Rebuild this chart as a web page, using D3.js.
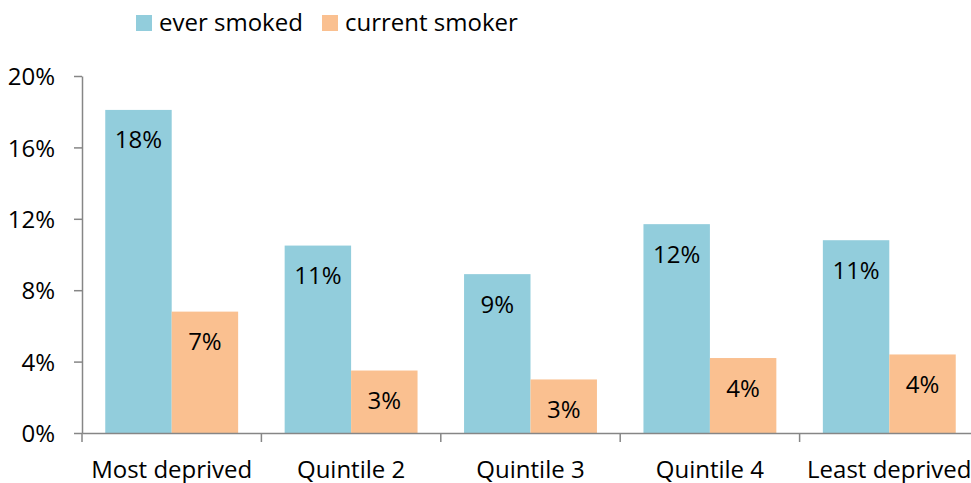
<!DOCTYPE html>
<html>
<head>
<meta charset="utf-8">
<script src="https://cdn.jsdelivr.net/npm/d3@7"></script>
<style>
  body { margin: 0; background: #fff; }
  svg { display: block; font-family: "Open Sans", Lato, sans-serif; }
</style>
</head>
<body>
<svg id="chart" width="971" height="483"></svg>
<script>
const categories = ['Most deprived', 'Quintile 2', 'Quintile 3', 'Quintile 4', 'Least deprived'];
const seriesNames = ['ever smoked', 'current smoker'];
const everSmoked = [18.1, 10.5, 8.9, 11.7, 10.8];
const currentSmoker = [6.8, 3.5, 3.0, 4.2, 4.4];
const labelsEver = ['18%', '11%', '9%', '12%', '11%'];
const labelsCurrent = ['7%', '3%', '3%', '4%', '4%'];
const yTicks = [0, 4, 8, 12, 16, 20];

const colors = ['#92cddc', '#fac090'];
const fontFamily = '"Open Sans", Lato, sans-serif';
const fontSize = '24px';
const svg = d3.select('#chart');

const x = d3.scaleBand()
  .domain(categories)
  .range([82, 979])
  .padding(0);

const inner = d3.scaleBand()
  .domain(seriesNames)
  .range([0, x.bandwidth()])
  .paddingOuter(0.35)
  .paddingInner(0);

const y = d3.scaleLinear()
  .domain([0, 20])
  .range([433, 76]);

const rows = categories.map((c, i) => ({
  cat: c,
  vals: [
    { s: seriesNames[0], v: everSmoked[i], label: labelsEver[i] },
    { s: seriesNames[1], v: currentSmoker[i], label: labelsCurrent[i] }
  ]
}));

// bars
const groups = svg.append('g')
  .selectAll('g')
  .data(rows)
  .join('g')
  .attr('transform', d => `translate(${x(d.cat)},0)`);

groups.selectAll('rect')
  .data(d => d.vals)
  .join('rect')
  .attr('x', d => inner(d.s))
  .attr('width', inner.bandwidth())
  .attr('y', d => y(d.v))
  .attr('height', d => y(0) - y(d.v))
  .attr('fill', (d, i) => colors[i]);

groups.selectAll('text')
  .data(d => d.vals)
  .join('text')
  .attr('x', d => inner(d.s) + inner.bandwidth() / 2)
  .attr('y', d => y(d.v) + 38.5)
  .attr('text-anchor', 'middle')
  .style('font-size', fontSize)
  .attr('fill', '#000')
  .text(d => d.label);

// y axis
const yAxis = svg.append('g')
  .attr('transform', 'translate(82,0)')
  .call(d3.axisLeft(y).tickValues(yTicks).tickFormat(d => d + '%').tickSize(8).tickSizeOuter(0));
yAxis.select('.domain').attr('stroke', '#868686').attr('stroke-width', 1.5);
yAxis.selectAll('.tick line').attr('stroke', '#868686').attr('stroke-width', 1.5);
yAxis.selectAll('.tick text')
  .attr('x', -27)
  .attr('dy', '0.36em')
  .attr('text-anchor', 'end')
  .style('font-size', fontSize)
  .style('font-family', fontFamily)
  .attr('fill', '#000');

// x axis
const xAxis = svg.append('g')
  .attr('transform', `translate(0,${y(0)})`)
  .call(d3.axisBottom(x).tickSize(0).tickSizeOuter(0));
xAxis.select('.domain').attr('stroke', '#868686').attr('stroke-width', 1.5);
xAxis.selectAll('.tick text')
  .attr('y', 45)
  .attr('dy', '0')
  .style('font-size', fontSize)
  .style('font-family', fontFamily)
  .attr('fill', '#000');

// category boundary ticks
svg.append('g')
  .selectAll('line')
  .data(categories)
  .join('line')
  .attr('x1', d => x(d))
  .attr('x2', d => x(d))
  .attr('y1', y(0))
  .attr('y2', y(0) + 9)
  .attr('stroke', '#868686')
  .attr('stroke-width', 1.5);

// legend
const legend = svg.append('g');
const legendX = [136, 322];
seriesNames.forEach((s, i) => {
  legend.append('rect')
    .attr('x', legendX[i])
    .attr('y', 15)
    .attr('width', 16)
    .attr('height', 16)
    .attr('fill', colors[i]);
  legend.append('text')
    .attr('x', legendX[i] + 23)
    .attr('y', 31)
    .style('font-size', fontSize)
    .attr('fill', '#000')
    .text(s);
});
</script>
</body>
</html>
